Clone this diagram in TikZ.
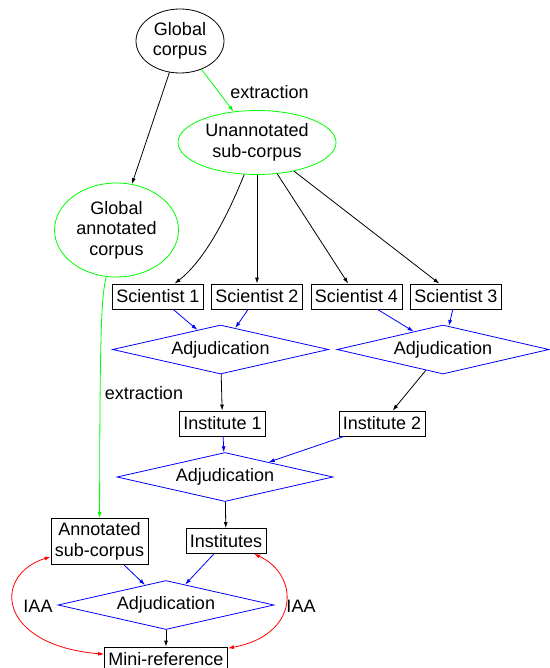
\documentclass[tikz,border=0pt]{standalone}
\usepackage{fontspec}
\setmainfont{Liberation Sans}
\usetikzlibrary{shapes.geometric,arrows.meta}

\begin{document}
\begin{tikzpicture}[x=1pt,y=1pt,line width=0.8pt,
        font=\fontsize{18}{20.5}\selectfont,
        every node/.style={align=center},
        oval/.style={draw,ellipse,inner sep=0pt},
        box/.style={draw,rectangle,inner xsep=4pt,inner ysep=4.5pt,minimum height=25pt},
        adj/.style={draw=blue,diamond,aspect=4,inner sep=0pt,minimum width=216pt,minimum height=49pt},
        arr/.style={-{Latex[length=6pt,width=4pt]}},
        iaa/.style={red,{Latex[length=6pt,width=4pt]}-{Latex[length=6pt,width=4pt]}}]
    \useasboundingbox (0,0) rectangle (549,-668);
    \node[oval,minimum width=88pt,minimum height=64pt] (gc) at (180,-41) {Global\\corpus};
    \node[oval,draw=green,minimum width=158pt,minimum height=64pt] (uc) at (257,-142.5) {Unannotated\\sub-corpus};
    \node[oval,draw=green,minimum width=124pt,minimum height=94pt] (ga) at (116.5,-230) {Global\\annotated\\corpus};
    \node[box] (s1) at (158,-296.5) {Scientist 1};
    \node[box] (s2) at (257,-296.5) {Scientist 2};
    \node[box] (s4) at (356.5,-296.5) {Scientist 4};
    \node[box] (s3) at (456,-296.5) {Scientist 3};
    \node[adj] (a1) at (220.5,-349.5) {Adjudication};
    \node[adj,minimum width=212pt] (a2) at (443,-349.5) {Adjudication};
    \node[box] (i1) at (222.5,-423.5) {Institute 1};
    \node[box] (i2) at (382,-423.5) {Institute 2};
    \node[adj] (a3) at (225,-477) {Adjudication};
    \node[box] (as) at (99.5,-541.5) {Annotated\\sub-corpus};
    \node[box] (in) at (226,-541) {Institutes};
    \node[adj] (a4) at (166,-605) {Adjudication};
    \node[box] (mr) at (166,-659.5) {Mini-reference};
    \node (ex1) at (269.5,-92) {extraction};
    \node (ex2) at (144,-393) {extraction};
    \node (iaa1) at (38,-606) {IAA};
    \node (iaa2) at (301,-606) {IAA};
    \draw[arr] (gc) -- (ga);
    \draw[arr,green] (gc) -- (uc);
    \draw[arr] (uc) .. controls (228,-215) and (205,-260) .. (s1);
    \draw[arr] (uc) -- (s2);
    \draw[arr] (uc) -- (s4);
    \draw[arr] (uc) -- (s3);
    \draw[arr,blue] (s1) -- (a1);
    \draw[arr,blue] (s2) -- (a1);
    \draw[arr,blue] (s4) -- (a2);
    \draw[arr,blue] (s3) -- (a2);
    \draw[arr,green] (ga) .. controls (101,-300) and (100,-330) .. (as);
    \draw[arr] (a1) -- (i1);
    \draw[arr] (a2) -- (i2);
    \draw[arr,blue] (i1) -- (a3);
    \draw[arr,blue] (i2) -- (a3);
    \draw[arr] (a3) -- (in);
    \draw[arr,blue] (as) -- (a4);
    \draw[arr,blue] (in) -- (a4);
    \draw[arr] (a4) -- (mr);
    \draw[iaa] (as) .. controls (-8,-575) and (-3,-645) .. (mr);
    \draw[iaa] (in) .. controls (300,-575) and (300,-635) .. (mr);
\end{tikzpicture}
\end{document}
